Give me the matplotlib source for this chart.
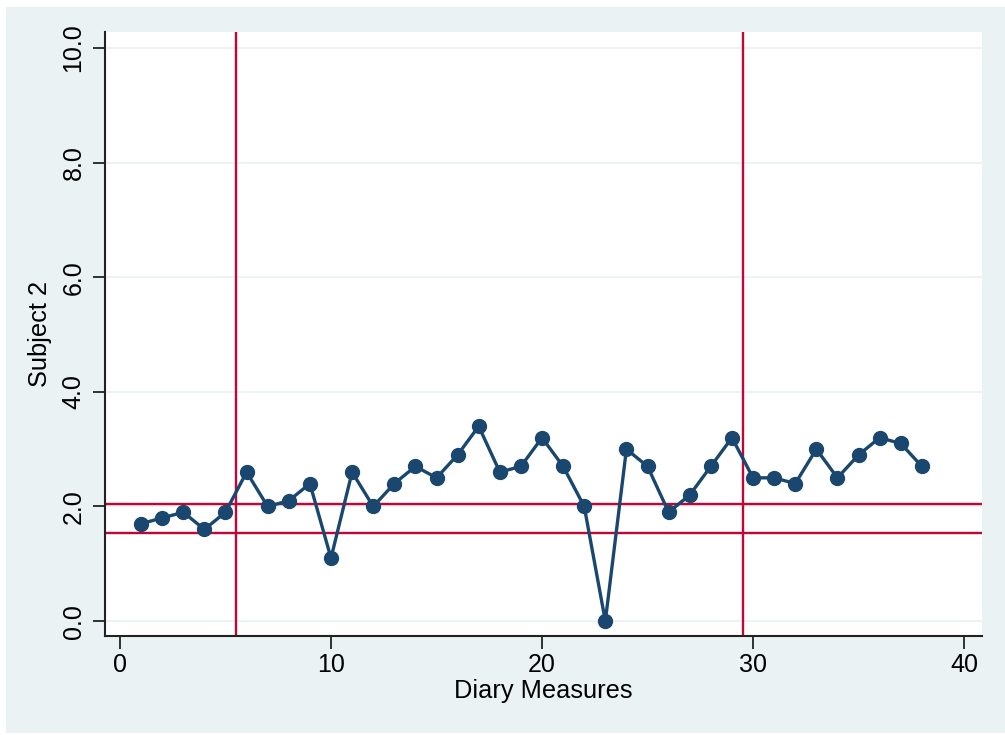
import matplotlib
matplotlib.use("Agg")
from matplotlib import pylab as plt
from matplotlib.patches import Rectangle

# valeurs
mesures = list(range(1, 39))
sujet2 = [1.7, 1.8, 1.9, 1.6, 1.9, 2.6, 2.0, 2.1, 2.4, 1.1,
          2.6, 2.0, 2.4, 2.7, 2.5, 2.9, 3.4, 2.6, 2.7, 3.2,
          2.7, 2.0, 0.0, 3.0, 2.7, 1.9, 2.2, 2.7, 3.2, 2.5,
          2.5, 2.4, 3.0, 2.5, 2.9, 3.2, 3.1, 2.7]
phases = [5.52, 29.52]
limites = [2.04, 1.54]
xticks = [0, 10, 20, 30, 40]
yticks = [0, 2, 4, 6, 8, 10]

plt.rcParams['font.family'] = ['Liberation Sans', 'DejaVu Sans']

fig = plt.figure(figsize=(10.05, 7.35), dpi=100)
fig.patch.set_facecolor('white')
fond = Rectangle((6 / 1005, 2 / 735), 999 / 1005, 726 / 735,
                 transform=fig.transFigure, facecolor='#EAF2F3',
                 edgecolor='none', zorder=-10)
fig.patches.append(fond)

ax = fig.add_axes([105 / 1005, (735 - 636) / 735, 877 / 1005, 604 / 735])
ax.set_zorder(1)
ax.set_facecolor('white')

for y in yticks:
    ax.axhline(y, color='#EAF2F3', lw=1.3, zorder=1)

for x in phases:
    ax.axvline(x, color='#C10534', lw=1.7, zorder=2)
for y in limites:
    ax.axhline(y, color='#C10534', lw=1.7, zorder=2)

ax.plot(mesures, sujet2, color='#1A476F', lw=2.4, marker='o', markersize=10, zorder=3)

ax.set_xlim(-0.71, 40.85)
ax.set_ylim(-0.26, 10.28)
ax.set_xticks(xticks)
ax.set_yticks(yticks)
ax.set_yticklabels(['%.1f' % v for v in yticks], rotation=90, va='center')
ax.tick_params(axis='both', labelsize=18, length=9, width=1.3, color='#222222')
ax.tick_params(axis='y', pad=5)

for s in ['top', 'right']:
    ax.spines[s].set_visible(False)
for s in ['left', 'bottom']:
    ax.spines[s].set_linewidth(1.5)
    ax.spines[s].set_color('#222222')

ax.set_xlabel('Diary Measures', fontsize=18.3, labelpad=1)
ax.set_ylabel('Subject 2', fontsize=18.3, labelpad=7)

plt.savefig('out.png', dpi=100, facecolor=fig.get_facecolor())
